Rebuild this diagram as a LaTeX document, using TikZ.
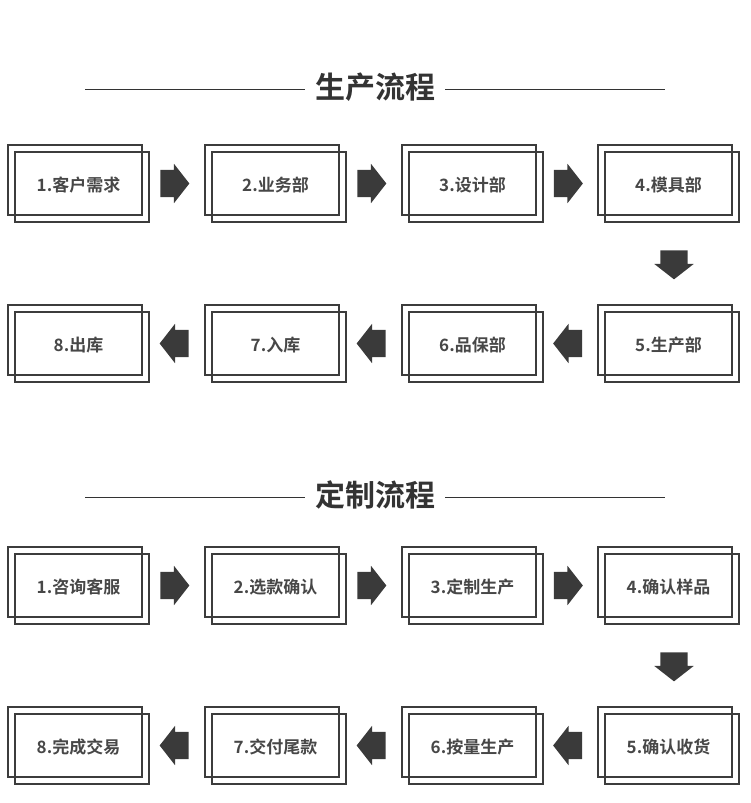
\documentclass[tikz,border=0pt]{standalone}
\usepackage{fontspec}
\newfontfamily\cjkbold{Noto Sans CJK SC Bold}
\usepackage{xcolor}
\usepackage{tikz}
\usetikzlibrary{
    positioning, calc, shapes.arrows, shadows
}
\definecolor{inkDark}{HTML}{333333}
\definecolor{boxLine}{HTML}{3c3c3c}
\definecolor{arrowFill}{HTML}{3a3a3a}

\begin{document}
\begin{tikzpicture}[x=1pt, y=-1pt,
    titletext/.style={
        font=\cjkbold\fontsize{30}{34}\selectfont, text=inkDark,
        inner xsep=10pt, inner ysep=0pt,
    },
    titlerule/.style={draw=inkDark, line width=1pt},
    stepbox/.style={
        rectangle, draw=boxLine, line width=1.3pt,
        minimum width=134pt, minimum height=70pt, inner sep=0pt,
        copy shadow={shadow xshift=7pt, shadow yshift=-7pt,
            fill=none, draw=boxLine, line width=1.3pt},
    },
    steptext/.style={
        font=\cjkbold\fontsize{17}{19}\selectfont, text=inkDark!90,
        inner sep=0pt, xshift=3.5pt, yshift=-5pt,
    },
    blockarrow/.style={
        single arrow, fill=arrowFill, draw=none,
        minimum height=29pt, minimum width=39pt,
        single arrow head extend=6pt, single arrow tip angle=104,
    },
    rightarrow/.style={blockarrow, inner xsep=0pt, inner ysep=13.5pt,
        xshift=-4pt, yshift=-3.5pt},
    leftarrow/.style={blockarrow, inner xsep=0pt, inner ysep=13.5pt,
        shape border rotate=180, xshift=6pt, yshift=-3.5pt},
    downarrow/.style={blockarrow, inner xsep=13.5pt, inner ysep=0pt,
        shape border rotate=270, xshift=9pt, yshift=0.5pt},
]
\useasboundingbox (0, 0) rectangle (750, 803);

\def\colA{75}
\def\colB{272}
\def\colC{469}
\def\colD{665}
\def\rowA{180}
\def\rowB{340}
\def\rowC{582}
\def\rowD{742}

% ── Section: 生产流程 ──────────────────────────────────────────────────
\node[titletext] (title1) at (375, 87) {生产流程};
\coordinate (rule1l) at (85, 89);
\coordinate (rule1r) at (665, 89);
\draw[titlerule] (rule1l) -- (rule1l -| title1.west);
\draw[titlerule] (title1.east |- rule1r) -- (rule1r);

\node[stepbox, label={[steptext]center:1.客户需求}] (p1) at (\colA, \rowA) {};
\node[stepbox, label={[steptext]center:2.业务部}]   (p2) at (\colB, \rowA) {};
\node[stepbox, label={[steptext]center:3.设计部}]   (p3) at (\colC, \rowA) {};
\node[stepbox, label={[steptext]center:4.模具部}]   (p4) at (\colD, \rowA) {};

\node[stepbox, label={[steptext]center:8.出库}]     (p8) at (\colA, \rowB) {};
\node[stepbox, label={[steptext]center:7.入库}]     (p7) at (\colB, \rowB) {};
\node[stepbox, label={[steptext]center:6.品保部}]   (p6) at (\colC, \rowB) {};
\node[stepbox, label={[steptext]center:5.生产部}]   (p5) at (\colD, \rowB) {};

\node[rightarrow] (p12) at ($(p1.east)!0.5!(p2.west)$) {};
\node[rightarrow] (p23) at ($(p2.east)!0.5!(p3.west)$) {};
\node[rightarrow] (p34) at ($(p3.east)!0.5!(p4.west)$) {};
\node[downarrow]  (p45) at ($(p4.south)!0.5!(p5.north)$) {};
\node[leftarrow]  (p56) at ($(p6.east)!0.5!(p5.west)$) {};
\node[leftarrow]  (p67) at ($(p7.east)!0.5!(p6.west)$) {};
\node[leftarrow]  (p78) at ($(p8.east)!0.5!(p7.west)$) {};

% ── Section: 定制流程 ──────────────────────────────────────────────────
\node[titletext] (title2) at (375, 495) {定制流程};
\coordinate (rule2l) at (85, 497);
\coordinate (rule2r) at (665, 497);
\draw[titlerule] (rule2l) -- (rule2l -| title2.west);
\draw[titlerule] (title2.east |- rule2r) -- (rule2r);

\node[stepbox, label={[steptext]center:1.咨询客服}] (c1) at (\colA, \rowC) {};
\node[stepbox, label={[steptext]center:2.选款确认}] (c2) at (\colB, \rowC) {};
\node[stepbox, label={[steptext]center:3.定制生产}] (c3) at (\colC, \rowC) {};
\node[stepbox, label={[steptext]center:4.确认样品}] (c4) at (\colD, \rowC) {};

\node[stepbox, label={[steptext]center:8.完成交易}] (c8) at (\colA, \rowD) {};
\node[stepbox, label={[steptext]center:7.交付尾款}] (c7) at (\colB, \rowD) {};
\node[stepbox, label={[steptext]center:6.按量生产}] (c6) at (\colC, \rowD) {};
\node[stepbox, label={[steptext]center:5.确认收货}] (c5) at (\colD, \rowD) {};

\node[rightarrow] (c12) at ($(c1.east)!0.5!(c2.west)$) {};
\node[rightarrow] (c23) at ($(c2.east)!0.5!(c3.west)$) {};
\node[rightarrow] (c34) at ($(c3.east)!0.5!(c4.west)$) {};
\node[downarrow]  (c45) at ($(c4.south)!0.5!(c5.north)$) {};
\node[leftarrow]  (c56) at ($(c6.east)!0.5!(c5.west)$) {};
\node[leftarrow]  (c67) at ($(c7.east)!0.5!(c6.west)$) {};
\node[leftarrow]  (c78) at ($(c8.east)!0.5!(c7.west)$) {};

\end{tikzpicture}
\end{document}
